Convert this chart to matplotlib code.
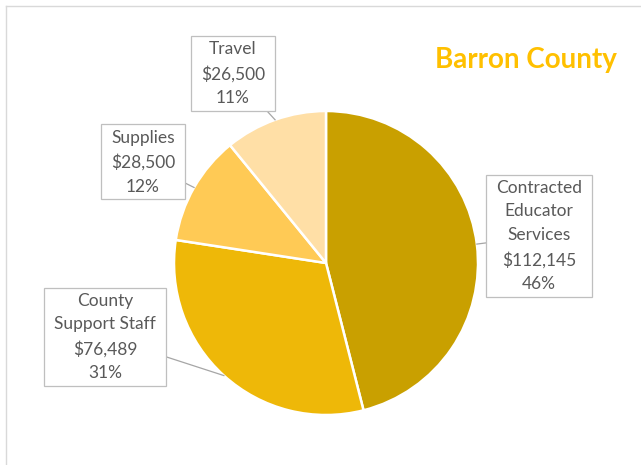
import matplotlib
matplotlib.use("Agg")
import matplotlib.pyplot as plt
import numpy as np
from matplotlib.lines import Line2D
from matplotlib.patches import Rectangle

categories = ["Contracted\nEducator\nServices", "County\nSupport Staff", "Supplies", "Travel"]
values = [112145, 76489, 28500, 26500]
colors = ["#C9A000", "#EEB808", "#FFCA55", "#FFDFA6"]
title = "Barron County"

W, H = 641, 465
fig = plt.figure(figsize=(W / 100, H / 100), dpi=100)
ax = fig.add_axes([0, 0, 1, 1])

cx, cy, R = 326, H - 263, 152
wedges, _ = ax.pie(values, colors=colors, startangle=90, counterclock=False,
                   center=(cx, cy), radius=R, frame=True,
                   wedgeprops=dict(edgecolor="white", linewidth=1.8))
ax.set_xlim(0, W)
ax.set_ylim(0, H)
ax.set_aspect("equal")
ax.axis("off")

total = sum(values)
# label box centers (pixels from top-left) - layout only
label_pos = [(539, 236), (105, 337), (143, 162), (233, 74)]
fontfam = ["Lato", "DejaVu Sans"]
texts = []
for w, cat, v, (lx, ly) in zip(wedges, categories, values, label_pos):
    ang = np.deg2rad((w.theta1 + w.theta2) / 2)
    ex, ey = cx + R * np.cos(ang), cy + R * np.sin(ang)
    txt = f"{cat}\n${v:,.0f}\n{round(100 * v / total):.0f}%"
    t = ax.text(lx, H - ly, txt, ha="center", va="center",
                fontsize=12.5, color="#595959", family=fontfam, linespacing=1.6,
                zorder=5)
    texts.append((t, ex, ey))

fig.canvas.draw()
r = fig.canvas.get_renderer()
padx, pady = 10, 5
for t, ex, ey in texts:
    bb = t.get_window_extent(r)
    x0, y0, x1, y1 = bb.x0 - padx, bb.y0 - pady, bb.x1 + padx, bb.y1 + pady
    mx, my = (x0 + x1) / 2, (y0 + y1) / 2
    dx, dy = ex - mx, ey - my
    # intersection of ray from box centre to wedge edge with box border
    s = min((x1 - mx) / abs(dx) if dx else np.inf, (y1 - my) / abs(dy) if dy else np.inf)
    px, py = mx + s * dx, my + s * dy
    ax.plot([px, ex], [py, ey], color="#A6A6A6", lw=0.9, zorder=3)
    ax.add_patch(Rectangle((x0, y0), x1 - x0, y1 - y0, fc="white", ec="#BFBFBF",
                           lw=0.9, zorder=4))

fig.text(526 / W, 1 - 60 / H, title, ha="center", va="center", fontsize=20,
         fontweight="bold", color="#FFC000", family=fontfam)

# chart border
fig.add_artist(Line2D([6 / W, 6 / W], [0, 1 - 6 / H], transform=fig.transFigure, color="#D9D9D9", lw=1))
fig.add_artist(Line2D([6 / W, 1], [1 - 6 / H, 1 - 6 / H], transform=fig.transFigure, color="#D9D9D9", lw=1))

fig.savefig("out.png", dpi=100, facecolor="white")
